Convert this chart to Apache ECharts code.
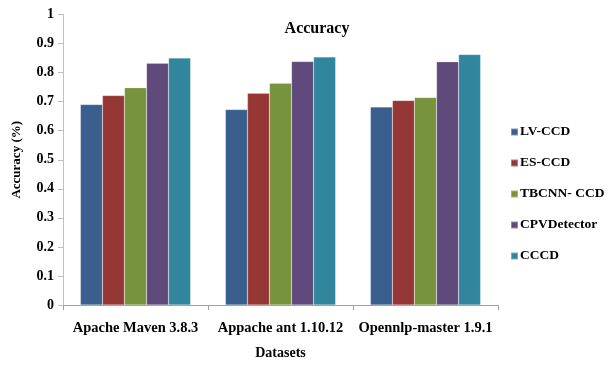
<!DOCTYPE html>
<html>
<head>
<meta charset="utf-8">
<script src="https://cdn.jsdelivr.net/npm/echarts@6/dist/echarts.min.js"></script>
<style>html,body{margin:0;padding:0;background:#fff;}#c{width:614px;height:365px;}</style>
</head>
<body>
<div id="c"></div>
<script>
const categories = ['Apache Maven 3.8.3', 'Appache ant 1.10.12', 'Opennlp-master 1.9.1'];
const seriesNames = ['LV-CCD', 'ES-CCD', 'TBCNN- CCD', 'CPVDetector', 'CCCD'];
const lvCcd = [0.690, 0.673, 0.682];
const esCcd = [0.721, 0.729, 0.704];
const tbcnnCcd = [0.748, 0.763, 0.714];
const cpvDetector = [0.832, 0.838, 0.837];
const cccd = [0.850, 0.854, 0.862];
const yTicks = [0, 0.1, 0.2, 0.3, 0.4, 0.5, 0.6, 0.7, 0.8, 0.9, 1];

const colors = ['#3A5F8E', '#953735', '#77933C', '#5F4A7B', '#31859C'];
const values = [lvCcd, esCcd, tbcnnCcd, cpvDetector, cccd];
const font = '"Liberation Serif", "Times New Roman", serif';

const chart = echarts.init(document.getElementById('c'));
chart.setOption({
  animation: false,
  color: colors,
  title: {
    text: 'Accuracy',
    left: 312, top: 16, textAlign: 'center',
    textStyle: { fontFamily: font, fontWeight: 'bold', fontSize: 16, color: '#000' }
  },
  legend: {
    orient: 'vertical',
    left: 505, top: 120,
    itemWidth: 7, itemHeight: 7, itemGap: 17,
    icon: 'rect',
    textStyle: { fontFamily: font, fontWeight: 'bold', fontSize: 13.5, color: '#000', padding: [0, 0, 0, -3] },
    data: seriesNames
  },
  grid: { left: 63, right: 116, top: 14.5, bottom: 56.3, containLabel: false },
  xAxis: {
    type: 'category',
    data: categories,
    name: 'Datasets',
    nameLocation: 'middle',
    nameGap: 41,
    nameTextStyle: { fontFamily: font, fontWeight: 'bold', fontSize: 14, color: '#000' },
    axisLine: { lineStyle: { color: '#A0A0A0' } },
    axisTick: { show: true, length: 5, lineStyle: { color: '#A0A0A0' } },
    axisLabel: { interval: 0, fontFamily: font, fontWeight: 'bold', fontSize: 14.5, color: '#000', margin: 16 }
  },
  yAxis: {
    type: 'value',
    min: 0, max: 1, interval: 0.1,
    name: 'Accuracy (%)',
    nameLocation: 'middle',
    nameGap: 40,
    nameTextStyle: { fontFamily: font, fontWeight: 'bold', fontSize: 13, color: '#000' },
    splitLine: { show: false },
    axisLine: { show: true, lineStyle: { color: '#C0C0C0' } },
    axisTick: { show: true, length: 5, lineStyle: { color: '#C0C0C0' } },
    axisLabel: {
      fontFamily: font, fontWeight: 'bold', fontSize: 14, color: '#000', margin: 9,
      formatter: v => { const t = yTicks.find(x => Math.abs(x - v) < 1e-9); return t === undefined ? '' : String(t); }
    }
  },
  series: seriesNames.map((n, i) => ({
    name: n,
    type: 'bar',
    data: values[i],
    barGap: '0%',
    barCategoryGap: '24%',
    itemStyle: { color: colors[i], borderColor: 'rgba(255,255,255,0.35)', borderWidth: 0.5 }
  }))
});
</script>
</body>
</html>
